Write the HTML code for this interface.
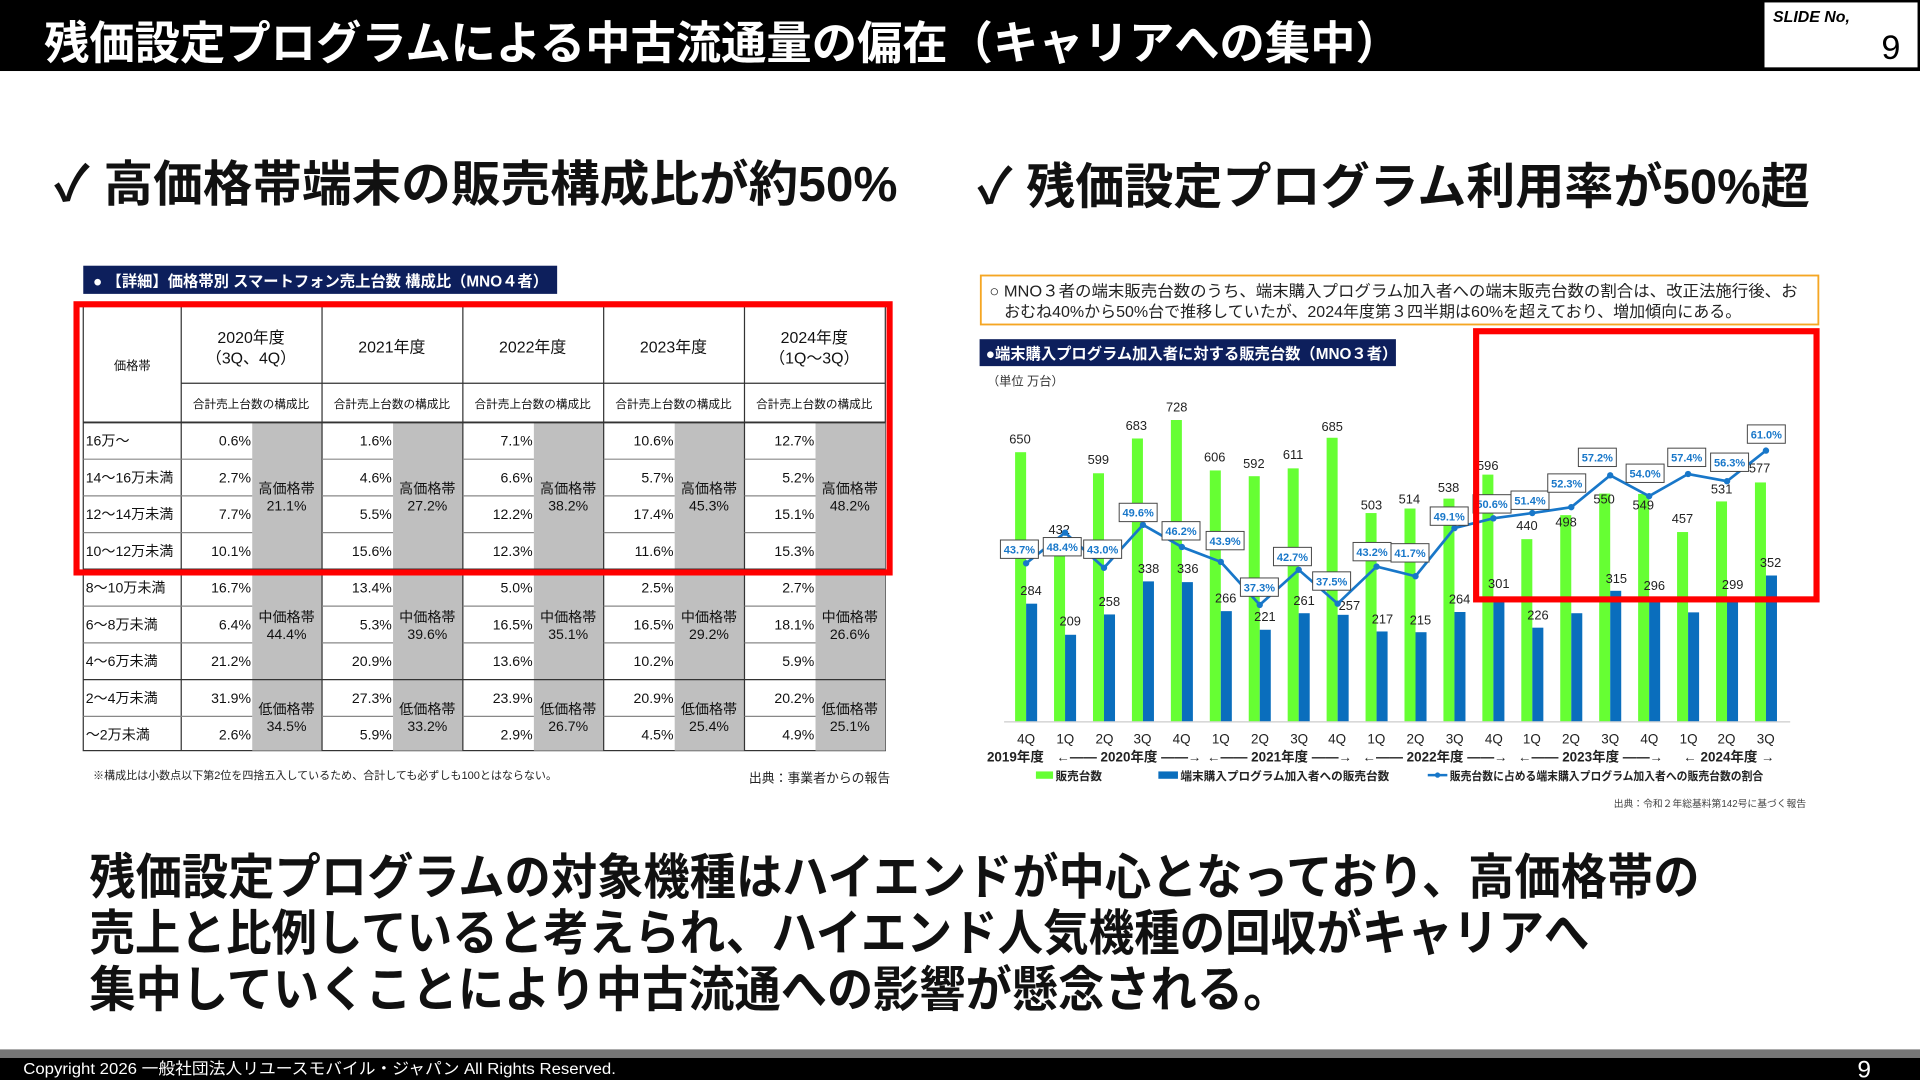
<!DOCTYPE html>
<html><head><meta charset="utf-8"><style>
html,body{margin:0;padding:0;background:#fff;width:1920px;height:1080px;overflow:hidden}
svg{display:block}
text{font-family:"Liberation Sans","Noto Sans CJK JP",sans-serif}
</style></head><body>
<svg width="1920" height="1080" viewBox="0 0 1568 882" xmlns="http://www.w3.org/2000/svg">
<rect width="1568" height="882" fill="#fff"/>
<!-- title -->
<rect x="0" y="0" width="1568" height="58" fill="#000"/>
<text x="36" y="48" font-size="37" font-weight="bold" fill="#fff" textLength="1108" lengthAdjust="spacingAndGlyphs">残価設定プログラムによる中古流通量の偏在（キャリアへの集中）</text>
<rect x="1441" y="2" width="125" height="53" fill="#fff"/>
<text x="1448" y="18" font-size="13" font-style="italic" font-weight="bold" fill="#000">SLIDE No,</text>
<text x="1552" y="48" font-size="28" text-anchor="end" fill="#000">9</text>
<!-- headings -->
<text x="44" y="164" font-size="40" font-weight="bold" fill="#111" textLength="689" lengthAdjust="spacingAndGlyphs">✓ 高価格帯端末の販売構成比が約50%</text>
<text x="798" y="166" font-size="40" font-weight="bold" fill="#111" textLength="680" lengthAdjust="spacingAndGlyphs">✓ 残価設定プログラム利用率が50%超</text>
<!-- left table -->
<rect x="68" y="217" width="387" height="23" fill="#0d1f5c"/>
<text x="76" y="234" font-size="12.5" font-weight="bold" fill="#fff">● 【詳細】価格帯別 スマートフォン売上台数 構成比（MNO４者）</text>
<g stroke="#333" stroke-width="1" fill="none">
<rect x="68" y="250" width="655" height="363"/>
</g>
<g fill="#bfbfbf">
<rect x="206" y="345" width="57" height="120"/><rect x="321" y="345" width="57" height="120"/><rect x="436" y="345" width="57" height="120"/><rect x="551" y="345" width="57" height="120"/><rect x="666" y="345" width="57" height="120"/>
<rect x="206" y="465" width="57" height="90"/><rect x="321" y="465" width="57" height="90"/><rect x="436" y="465" width="57" height="90"/><rect x="551" y="465" width="57" height="90"/><rect x="666" y="465" width="57" height="90"/>
<rect x="206" y="555" width="57" height="58"/><rect x="321" y="555" width="57" height="58"/><rect x="436" y="555" width="57" height="58"/><rect x="551" y="555" width="57" height="58"/><rect x="666" y="555" width="57" height="58"/>
</g>
<g stroke="#333" stroke-width="1">
<line x1="148" y1="250" x2="148" y2="613"/><line x1="263" y1="250" x2="263" y2="613"/><line x1="378" y1="250" x2="378" y2="613"/><line x1="493" y1="250" x2="493" y2="613"/><line x1="608" y1="250" x2="608" y2="613"/>
<line x1="148" y1="313" x2="723" y2="313"/>
<line x1="68" y1="345" x2="723" y2="345" stroke-width="1.5"/>
<line x1="68" y1="465" x2="723" y2="465" stroke-width="1.5"/>
<line x1="68" y1="555" x2="723" y2="555"/>
</g>
<g stroke="#888" stroke-width="1">
<line x1="68" y1="375" x2="206" y2="375"/><line x1="68" y1="405" x2="206" y2="405"/><line x1="68" y1="435" x2="206" y2="435"/><line x1="68" y1="495" x2="206" y2="495"/><line x1="68" y1="525" x2="206" y2="525"/><line x1="68" y1="585" x2="206" y2="585"/>
<line x1="263" y1="375" x2="321" y2="375"/><line x1="263" y1="405" x2="321" y2="405"/><line x1="263" y1="435" x2="321" y2="435"/><line x1="263" y1="495" x2="321" y2="495"/><line x1="263" y1="525" x2="321" y2="525"/><line x1="263" y1="585" x2="321" y2="585"/>
<line x1="378" y1="375" x2="436" y2="375"/><line x1="378" y1="405" x2="436" y2="405"/><line x1="378" y1="435" x2="436" y2="435"/><line x1="378" y1="495" x2="436" y2="495"/><line x1="378" y1="525" x2="436" y2="525"/><line x1="378" y1="585" x2="436" y2="585"/>
<line x1="493" y1="375" x2="551" y2="375"/><line x1="493" y1="405" x2="551" y2="405"/><line x1="493" y1="435" x2="551" y2="435"/><line x1="493" y1="495" x2="551" y2="495"/><line x1="493" y1="525" x2="551" y2="525"/><line x1="493" y1="585" x2="551" y2="585"/>
<line x1="608" y1="375" x2="666" y2="375"/><line x1="608" y1="405" x2="666" y2="405"/><line x1="608" y1="435" x2="666" y2="435"/><line x1="608" y1="495" x2="666" y2="495"/><line x1="608" y1="525" x2="666" y2="525"/><line x1="608" y1="585" x2="666" y2="585"/>
</g>
<g font-size="13" fill="#111" text-anchor="middle">
<text x="205" y="280">2020年度</text><text x="205" y="297">（3Q、4Q）</text>
<text x="320" y="288">2021年度</text><text x="435" y="288">2022年度</text><text x="550" y="288">2023年度</text>
<text x="665" y="280">2024年度</text><text x="665" y="297">（1Q～3Q）</text>
</g>
<text x="108" y="302" font-size="10" text-anchor="middle" fill="#111">価格帯</text>
<g font-size="9.5" fill="#111" text-anchor="middle">
<text x="205" y="333">合計売上台数の構成比</text><text x="320" y="333">合計売上台数の構成比</text><text x="435" y="333">合計売上台数の構成比</text><text x="550" y="333">合計売上台数の構成比</text><text x="665" y="333">合計売上台数の構成比</text>
</g>
<g font-size="11.5" fill="#111">
<text x="70" y="364">16万～</text><text x="70" y="394">14～16万未満</text><text x="70" y="424">12～14万未満</text><text x="70" y="454">10～12万未満</text><text x="70" y="484">8～10万未満</text><text x="70" y="514">6～8万未満</text><text x="70" y="544">4～6万未満</text><text x="70" y="574">2～4万未満</text><text x="70" y="604">～2万未満</text>
</g>
<g font-size="11.5" fill="#111" text-anchor="end">
<text x="205" y="364">0.6%</text><text x="205" y="394">2.7%</text><text x="205" y="424">7.7%</text><text x="205" y="454">10.1%</text><text x="205" y="484">16.7%</text><text x="205" y="514">6.4%</text><text x="205" y="544">21.2%</text><text x="205" y="574">31.9%</text><text x="205" y="604">2.6%</text>
<text x="320" y="364">1.6%</text><text x="320" y="394">4.6%</text><text x="320" y="424">5.5%</text><text x="320" y="454">15.6%</text><text x="320" y="484">13.4%</text><text x="320" y="514">5.3%</text><text x="320" y="544">20.9%</text><text x="320" y="574">27.3%</text><text x="320" y="604">5.9%</text>
<text x="435" y="364">7.1%</text><text x="435" y="394">6.6%</text><text x="435" y="424">12.2%</text><text x="435" y="454">12.3%</text><text x="435" y="484">5.0%</text><text x="435" y="514">16.5%</text><text x="435" y="544">13.6%</text><text x="435" y="574">23.9%</text><text x="435" y="604">2.9%</text>
<text x="550" y="364">10.6%</text><text x="550" y="394">5.7%</text><text x="550" y="424">17.4%</text><text x="550" y="454">11.6%</text><text x="550" y="484">2.5%</text><text x="550" y="514">16.5%</text><text x="550" y="544">10.2%</text><text x="550" y="574">20.9%</text><text x="550" y="604">4.5%</text>
<text x="665" y="364">12.7%</text><text x="665" y="394">5.2%</text><text x="665" y="424">15.1%</text><text x="665" y="454">15.3%</text><text x="665" y="484">2.7%</text><text x="665" y="514">18.1%</text><text x="665" y="544">5.9%</text><text x="665" y="574">20.2%</text><text x="665" y="604">4.9%</text>
</g>
<g font-size="11.5" fill="#111" text-anchor="middle">
<text x="234" y="403">高価格帯</text><text x="234" y="417">21.1%</text>
<text x="349" y="403">高価格帯</text><text x="349" y="417">27.2%</text>
<text x="464" y="403">高価格帯</text><text x="464" y="417">38.2%</text>
<text x="579" y="403">高価格帯</text><text x="579" y="417">45.3%</text>
<text x="694" y="403">高価格帯</text><text x="694" y="417">48.2%</text>
<text x="234" y="508">中価格帯</text><text x="234" y="522">44.4%</text>
<text x="349" y="508">中価格帯</text><text x="349" y="522">39.6%</text>
<text x="464" y="508">中価格帯</text><text x="464" y="522">35.1%</text>
<text x="579" y="508">中価格帯</text><text x="579" y="522">29.2%</text>
<text x="694" y="508">中価格帯</text><text x="694" y="522">26.6%</text>
<text x="234" y="583">低価格帯</text><text x="234" y="597">34.5%</text>
<text x="349" y="583">低価格帯</text><text x="349" y="597">33.2%</text>
<text x="464" y="583">低価格帯</text><text x="464" y="597">26.7%</text>
<text x="579" y="583">低価格帯</text><text x="579" y="597">25.4%</text>
<text x="694" y="583">低価格帯</text><text x="694" y="597">25.1%</text>
</g>
<text x="76" y="636" font-size="9" fill="#222">※構成比は小数点以下第2位を四捨五入しているため、合計しても必ずしも100とはならない。</text>
<text x="727" y="639" font-size="10.5" fill="#222" text-anchor="end">出典：事業者からの報告</text>
<rect x="62.5" y="248.5" width="664" height="219" fill="none" stroke="#f00" stroke-width="5"/>

<!-- right chart -->
<rect x="801" y="225" width="684" height="40" fill="#fff" stroke="#f5a623" stroke-width="1.5"/>
<text x="808" y="242" font-size="13" fill="#222" textLength="660" lengthAdjust="spacingAndGlyphs">○ MNO３者の端末販売台数のうち、端末購入プログラム加入者への端末販売台数の割合は、改正法施行後、お</text>
<text x="820" y="259" font-size="13" fill="#222" textLength="602" lengthAdjust="spacingAndGlyphs">おむね40%から50%台で推移していたが、2024年度第３四半期は60%を超えており、増加傾向にある。</text>
<rect x="800" y="277" width="340" height="22" fill="#0d1f5c"/>
<text x="805" y="293" font-size="12.5" font-weight="bold" fill="#fff">●端末購入プログラム加入者に対する販売台数（MNO３者）</text>
<text x="806" y="315" font-size="10" fill="#333">（単位 万台）</text>
<line x1="820" y1="589.5" x2="1462" y2="589.5" stroke="#ccc"/>
<g fill="#66ff33">
<rect x="829" y="369.3" width="9" height="219.7"/><rect x="860.8" y="443" width="9" height="146"/><rect x="892.6" y="386.5" width="9" height="202.5"/><rect x="924.4" y="358.1" width="9" height="230.9"/><rect x="956.2" y="343" width="9" height="246"/><rect x="988" y="384.2" width="9" height="204.8"/><rect x="1019.8" y="388.9" width="9" height="200.1"/><rect x="1051.6" y="382.5" width="9" height="206.5"/><rect x="1083.4" y="357.5" width="9" height="231.5"/><rect x="1115.2" y="419" width="9" height="170"/><rect x="1147" y="415.3" width="9" height="173.7"/><rect x="1178.8" y="407.2" width="9" height="181.8"/><rect x="1210.6" y="387.6" width="9" height="201.4"/><rect x="1242.4" y="440.3" width="9" height="148.7"/><rect x="1274.2" y="420.7" width="9" height="168.3"/><rect x="1306" y="403.1" width="9" height="185.9"/><rect x="1337.8" y="403.4" width="9" height="185.6"/><rect x="1369.6" y="434.5" width="9" height="154.5"/><rect x="1401.4" y="409.5" width="9" height="179.5"/><rect x="1433.2" y="394" width="9" height="195"/>
</g>
<g fill="#0a6ebd">
<rect x="838" y="493" width="9" height="96"/><rect x="869.8" y="518.4" width="9" height="70.6"/><rect x="901.6" y="501.8" width="9" height="87.2"/><rect x="933.4" y="474.8" width="9" height="114.2"/><rect x="965.2" y="475.4" width="9" height="113.6"/><rect x="997" y="499.1" width="9" height="89.9"/><rect x="1028.8" y="514.3" width="9" height="74.7"/><rect x="1060.6" y="500.8" width="9" height="88.2"/><rect x="1092.4" y="502.1" width="9" height="86.9"/><rect x="1124.2" y="515.7" width="9" height="73.3"/><rect x="1156" y="516.3" width="9" height="72.7"/><rect x="1187.8" y="499.8" width="9" height="89.2"/><rect x="1219.6" y="487.3" width="9" height="101.7"/><rect x="1251.4" y="512.6" width="9" height="76.4"/><rect x="1283.2" y="500.8" width="9" height="88.2"/><rect x="1315" y="482.5" width="9" height="106.5"/><rect x="1346.8" y="489" width="9" height="100"/><rect x="1378.6" y="500.1" width="9" height="88.9"/><rect x="1410.4" y="488" width="9" height="101"/><rect x="1442.2" y="470" width="9" height="119"/>
</g>
<g font-size="10.5" fill="#222" text-anchor="middle">
<text x="833" y="362">650</text><text x="865" y="436">432</text><text x="897" y="379">599</text><text x="928" y="351">683</text><text x="961" y="336">728</text><text x="992" y="377">606</text><text x="1024" y="382">592</text><text x="1056" y="375">611</text><text x="1088" y="352">685</text><text x="1120" y="416">503</text><text x="1151" y="411">514</text><text x="1183" y="402">538</text><text x="1215" y="384">596</text><text x="1247" y="433">440</text><text x="1279" y="430">498</text><text x="1310" y="411">550</text><text x="1342" y="416">549</text><text x="1374" y="427">457</text><text x="1406" y="403">531</text><text x="1437" y="386">577</text>
<text x="842" y="486">284</text><text x="874" y="511">209</text><text x="906" y="495">258</text><text x="938" y="468">338</text><text x="970" y="468">336</text><text x="1001" y="492">266</text><text x="1033" y="507">221</text><text x="1065" y="494">261</text><text x="1102" y="498">257</text><text x="1129" y="509">217</text><text x="1160" y="510">215</text><text x="1192" y="493">264</text><text x="1224" y="480">301</text><text x="1256" y="506">226</text><text x="1320" y="476">315</text><text x="1351" y="482">296</text><text x="1415" y="481">299</text><text x="1446" y="463">352</text>
</g>
<polyline fill="none" stroke="#1877c9" stroke-width="2.2" points="838,460 869.8,435 901.6,463.7 933.4,428.6 965.2,446.7 997,458.9 1028.8,494 1060.6,465.3 1092.4,493 1124.2,462.7 1156,470.6 1187.8,431.3 1219.6,423.3 1251.4,419 1283.2,414.2 1315,388.2 1346.8,405.2 1378.6,387.1 1410.4,393 1442.2,368"/>
<g fill="#1877c9">
<circle cx="838" cy="460" r="2.6"/><circle cx="869.8" cy="435" r="2.6"/><circle cx="901.6" cy="463.7" r="2.6"/><circle cx="933.4" cy="428.6" r="2.6"/><circle cx="965.2" cy="446.7" r="2.6"/><circle cx="997" cy="458.9" r="2.6"/><circle cx="1028.8" cy="494" r="2.6"/><circle cx="1060.6" cy="465.3" r="2.6"/><circle cx="1092.4" cy="493" r="2.6"/><circle cx="1124.2" cy="462.7" r="2.6"/><circle cx="1156" cy="470.6" r="2.6"/><circle cx="1187.8" cy="431.3" r="2.6"/><circle cx="1219.6" cy="423.3" r="2.6"/><circle cx="1251.4" cy="419" r="2.6"/><circle cx="1283.2" cy="414.2" r="2.6"/><circle cx="1315" cy="388.2" r="2.6"/><circle cx="1346.8" cy="405.2" r="2.6"/><circle cx="1378.6" cy="387.1" r="2.6"/><circle cx="1410.4" cy="393" r="2.6"/><circle cx="1442.2" cy="368" r="2.6"/>
</g>
<g fill="#fff" stroke="#444" stroke-width="0.8">
<rect x="817" y="441" width="31" height="15"/><rect x="852" y="439" width="31" height="15"/><rect x="885" y="441" width="31" height="15"/><rect x="914" y="411" width="31" height="15"/><rect x="949" y="426" width="31" height="15"/><rect x="985" y="434" width="31" height="15"/><rect x="1013" y="472" width="31" height="15"/><rect x="1040" y="447" width="31" height="15"/><rect x="1072" y="467" width="31" height="15"/><rect x="1105" y="443" width="31" height="15"/><rect x="1136" y="444" width="31" height="15"/><rect x="1168" y="414" width="31" height="15"/><rect x="1203" y="404" width="31" height="15"/><rect x="1234" y="401" width="31" height="15"/><rect x="1264" y="387" width="31" height="15"/><rect x="1289" y="366" width="31" height="15"/><rect x="1328" y="379" width="31" height="15"/><rect x="1362" y="366" width="31" height="15"/><rect x="1397" y="370" width="31" height="15"/><rect x="1427" y="347" width="31" height="15"/>
</g>
<g font-size="9" font-weight="bold" fill="#1877c9" text-anchor="middle">
<text x="832.5" y="452">43.7%</text><text x="867.5" y="450">48.4%</text><text x="900.5" y="452">43.0%</text><text x="929.5" y="422">49.6%</text><text x="964.5" y="437">46.2%</text><text x="1000.5" y="445">43.9%</text><text x="1028.5" y="483">37.3%</text><text x="1055.5" y="458">42.7%</text><text x="1087.5" y="478">37.5%</text><text x="1120.5" y="454">43.2%</text><text x="1151.5" y="455">41.7%</text><text x="1183.5" y="425">49.1%</text><text x="1218.5" y="415">50.6%</text><text x="1249.5" y="412">51.4%</text><text x="1279.5" y="398">52.3%</text><text x="1304.5" y="377">57.2%</text><text x="1343.5" y="390">54.0%</text><text x="1377.5" y="377">57.4%</text><text x="1412.5" y="381">56.3%</text><text x="1442.5" y="358">61.0%</text>
</g>
<g font-size="11" fill="#222" text-anchor="middle">
<text x="838" y="607">4Q</text><text x="870" y="607">1Q</text><text x="902" y="607">2Q</text><text x="933" y="607">3Q</text><text x="965" y="607">4Q</text><text x="997" y="607">1Q</text><text x="1029" y="607">2Q</text><text x="1061" y="607">3Q</text><text x="1092" y="607">4Q</text><text x="1124" y="607">1Q</text><text x="1156" y="607">2Q</text><text x="1188" y="607">3Q</text><text x="1220" y="607">4Q</text><text x="1251" y="607">1Q</text><text x="1283" y="607">2Q</text><text x="1315" y="607">3Q</text><text x="1347" y="607">4Q</text><text x="1379" y="607">1Q</text><text x="1410" y="607">2Q</text><text x="1442" y="607">3Q</text>
</g>
<g font-size="11" font-weight="bold" fill="#222">
<text x="806" y="622">2019年度</text>
<text x="922" y="622" text-anchor="middle">←——  2020年度  ——→</text>
<text x="1045" y="622" text-anchor="middle">←——  2021年度  ——→</text>
<text x="1172" y="622" text-anchor="middle">←——  2022年度  ——→</text>
<text x="1299" y="622" text-anchor="middle">←——  2023年度  ——→</text>
<text x="1412" y="622" text-anchor="middle">←  2024年度  →</text>
</g>
<rect x="846" y="630" width="14" height="6" fill="#66ff33"/><text x="862" y="637" font-size="9.5" font-weight="bold" fill="#222">販売台数</text>
<rect x="946" y="630" width="16" height="6" fill="#0a6ebd"/><text x="964" y="637" font-size="9.5" font-weight="bold" fill="#222">端末購入プログラム加入者への販売台数</text>
<line x1="1166" y1="633" x2="1182" y2="633" stroke="#1877c9" stroke-width="2"/><circle cx="1174" cy="633" r="2.2" fill="#1877c9"/>
<text x="1184" y="637" font-size="9.5" font-weight="bold" fill="#222" textLength="256" lengthAdjust="spacingAndGlyphs">販売台数に占める端末購入プログラム加入者への販売台数の割合</text>
<text x="1475" y="659" font-size="8" fill="#444" text-anchor="end">出典：令和２年総基料第142号に基づく報告</text>
<rect x="1205.5" y="270.5" width="278" height="219" fill="none" stroke="#f00" stroke-width="5"/>

<!-- bottom text -->
<g font-size="40" font-weight="bold" fill="#111">
<text x="73" y="730" textLength="1315" lengthAdjust="spacingAndGlyphs">残価設定プログラムの対象機種はハイエンドが中心となっており、高価格帯の</text>
<text x="73" y="776" textLength="1225" lengthAdjust="spacingAndGlyphs">売上と比例していると考えられ、ハイエンド人気機種の回収がキャリアへ</text>
<text x="73" y="822" textLength="980" lengthAdjust="spacingAndGlyphs">集中していくことにより中古流通への影響が懸念される。</text>
</g>
<!-- footer -->
<rect x="0" y="857" width="1568" height="7" fill="#777"/>
<rect x="0" y="864" width="1568" height="18" fill="#000"/>
<text x="19" y="877" font-size="13" fill="#fff" textLength="484" lengthAdjust="spacingAndGlyphs">Copyright 2026 一般社団法人リユースモバイル・ジャパン All Rights Reserved.</text>
<text x="1528" y="880" font-size="20" fill="#fff" text-anchor="end">9</text>
</svg>
</body></html>
